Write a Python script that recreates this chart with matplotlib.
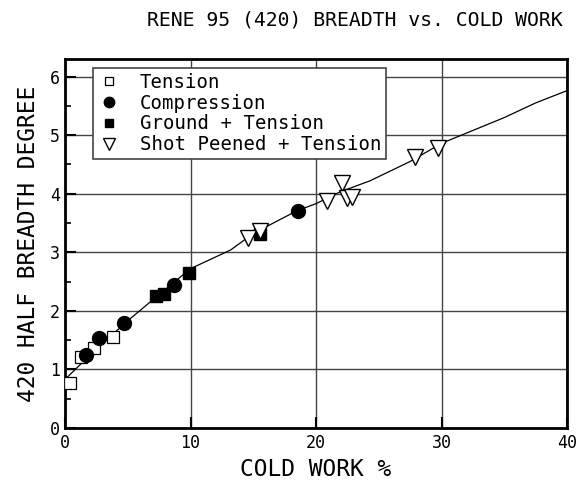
import matplotlib
matplotlib.use('Agg')
import matplotlib.pyplot as plt
from matplotlib.ticker import MultipleLocator

plt.rcParams['font.family'] = ['DejaVu Sans Mono']

# data
tension_x = [0.4, 1.25, 2.35, 3.8]
tension_y = [0.77, 1.22, 1.36, 1.56]

comp_x = [1.67, 2.74, 4.73, 8.71, 18.57]
comp_y = [1.24, 1.53, 1.80, 2.45, 3.71]

ground_x = [7.25, 7.86, 9.9, 15.5]
ground_y = [2.25, 2.28, 2.65, 3.32]

shot_x = [14.6, 15.54, 20.85, 22.05, 22.45, 22.9, 27.9, 29.7]
shot_y = [3.25, 3.36, 3.88, 4.18, 3.92, 3.95, 4.62, 4.78]

fit_x = [0, 2.5, 5, 7.5, 10, 13.2, 15, 17.5, 18.5, 20, 21.9, 24.3, 27.5, 30, 32.5, 35, 37.5, 40]
fit_y = [0.83, 1.35, 1.83, 2.28, 2.72, 3.04, 3.32, 3.6, 3.71, 3.83, 4.03, 4.22, 4.55, 4.86, 5.08, 5.3, 5.55, 5.76]

fig = plt.figure(figsize=(5.79, 4.84), dpi=100)
ax = fig.add_axes([65/579, 1 - 428/484, 502/579, 369/484])

ax.plot(fit_x, fit_y, color='black', lw=0.9, zorder=2)
ax.plot(tension_x, tension_y, 's', ms=8, mfc='white', mec='black', mew=0.9,
        label='Tension', zorder=3)
ax.plot(comp_x, comp_y, 'o', ms=10, color='black', label='Compression', zorder=3)
ax.plot(ground_x, ground_y, 's', ms=8, color='black', label='Ground + Tension', zorder=3)
ax.plot(shot_x, shot_y, 'v', ms=11, mfc='white', mec='black', mew=1.0,
        label='Shot Peened + Tension', zorder=4)

ax.set_xlim(0, 40)
ax.set_ylim(0, 6.3)
ax.xaxis.set_major_locator(MultipleLocator(10))
ax.yaxis.set_major_locator(MultipleLocator(1))
ax.yaxis.set_minor_locator(MultipleLocator(0.5))
ax.grid(True, which='major', color='#444444', lw=1)
ax.set_axisbelow(True)
for s in ax.spines.values():
    s.set_linewidth(2)
ax.tick_params(direction='in', length=8, width=1.5, labelsize=12, top=False, right=False)
ax.tick_params(which='minor', direction='in', length=4, width=1.2)
ax.tick_params(axis='x', pad=4)

ax.set_xlabel('COLD WORK %', fontsize=16.5, labelpad=5)
ax.set_ylabel('420 HALF BREADTH DEGREE', fontsize=16.5, labelpad=7)
fig.text(355/579, 1 - 20/484, 'RENE 95 (420) BREADTH vs. COLD WORK',
         ha='center', va='center', fontsize=14.2)

leg = ax.legend(loc='upper left', bbox_to_anchor=(0.056, 0.976), borderaxespad=0,
                fontsize=13.7, fancybox=False, framealpha=1, edgecolor='#444444',
                handlelength=1.2, handletextpad=1.0, borderpad=0.25, labelspacing=0.1,
                markerscale=0.75)
leg.get_frame().set_linewidth(1.2)

fig.savefig('out.png', dpi=100)
